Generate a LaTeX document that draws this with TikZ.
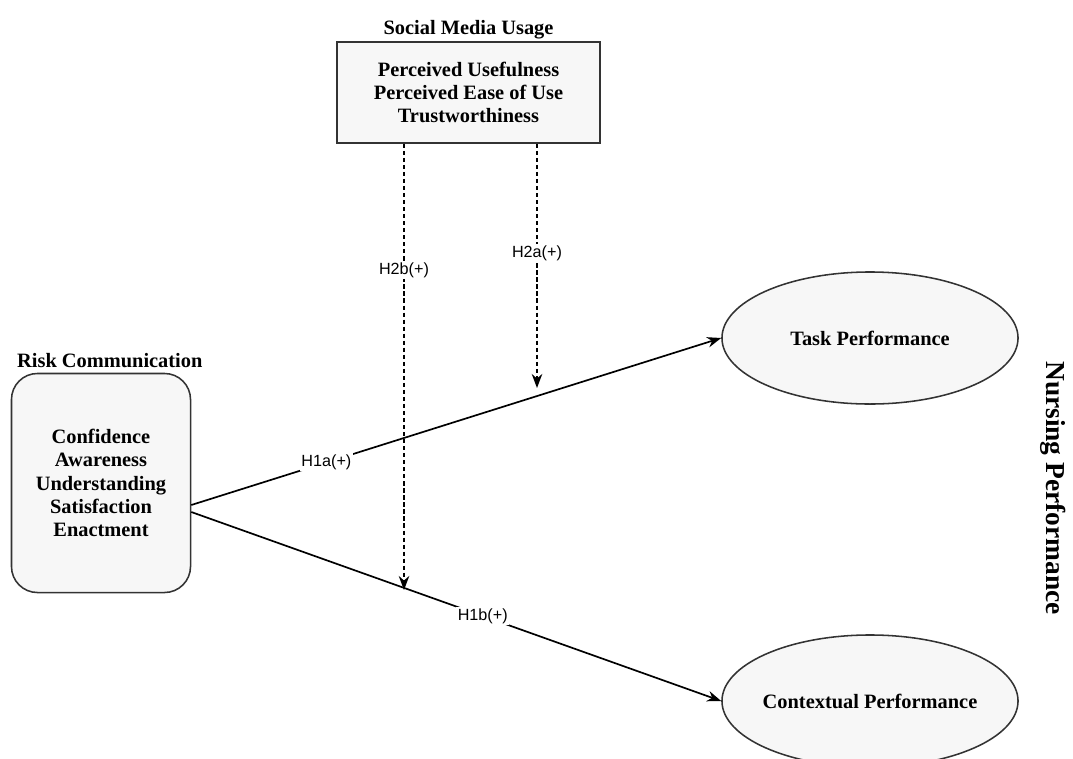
\documentclass[tikz,border=0pt]{standalone}
\usepackage{fontspec}
\setmainfont{Liberation Serif}
\setsansfont{Liberation Sans}
\usepackage{tikz}
\usetikzlibrary{positioning, calc, arrows.meta, shapes.geometric}

\begin{document}
\begin{tikzpicture}[
  x=0.025cm, y=-0.025cm,
  every node/.style={font=\fontsize{14.5}{16.5}\selectfont\bfseries},
  construct/.style={draw=black!80, fill=gray!6, line width=1.1pt, align=center},
  outcome/.style={ellipse, draw=black!80, fill=gray!6, line width=1.1pt, inner sep=0pt,
    minimum width=7.4cm, minimum height=3.3cm},
  hyp/.style={font=\sffamily\fontsize{11.5}{13}\selectfont, fill=white, inner sep=1pt},
  path/.style={line width=1.2pt, -{Stealth[length=10pt, width=7.5pt]}},
  moder/.style={line width=1.1pt, dash pattern=on 3pt off 2pt, -{Stealth[length=10pt, width=7.5pt]}},
]
  \useasboundingbox (0,0) rectangle (1073,758);

  % Social media usage (moderator)
  \node[construct, minimum width=6.575cm, minimum height=2.525cm] (smu) at (468.5,92.5)
    {Perceived Usefulness\\[0pt]Perceived Ease of Use\\[0pt]Trustworthiness};
  \node[anchor=south, yshift=-2pt] (smutitle) at (smu.north) {Social Media Usage};

  % Risk communication (independent)
  \node[construct, rounded corners=0.65cm, minimum width=4.475cm, minimum height=5.475cm] (rc) at (101,483)
    {Confidence\\Awareness\\Understanding\\Satisfaction\\Enactment};
  \node[anchor=south, xshift=0.22cm] (rctitle) at (rc.north) {Risk Communication};

  % Nursing performance (dependent)
  \node[outcome] (task) at (870,338) {\makebox[0pt]{Task Performance}};
  \node[outcome] (ctx) at (870,701) {\makebox[0pt]{Contextual Performance}};
  \node[rotate=-90, font=\fontsize{19.5}{22}\selectfont\bfseries] (np) at (1053,488) {Nursing Performance};

  % Direct effects
  \coordinate (h1astart) at ($(rc.east)+(0,22)$);
  \coordinate (h1bstart) at ($(rc.east)+(0,29)$);
  \draw[path] (h1astart) -- (task.west) node[hyp, pos=0.255] (h1a) {H1a(+)};
  \draw[path] (h1bstart) -- (ctx.west) node[hyp, pos=0.55] (h1b) {H1b(+)};

  % Moderating effects
  \coordinate (h2aend) at (537,388);
  \coordinate (h2bend) at (404,590);
  \draw[moder] (smu.south -| h2aend) -- (h2aend);
  \draw[moder] (smu.south -| h2bend) -- (h2bend);
  \node[hyp] (h2a) at (537,253) {H2a(+)};
  \node[hyp] (h2b) at (404,270) {H2b(+)};
\end{tikzpicture}
\end{document}
